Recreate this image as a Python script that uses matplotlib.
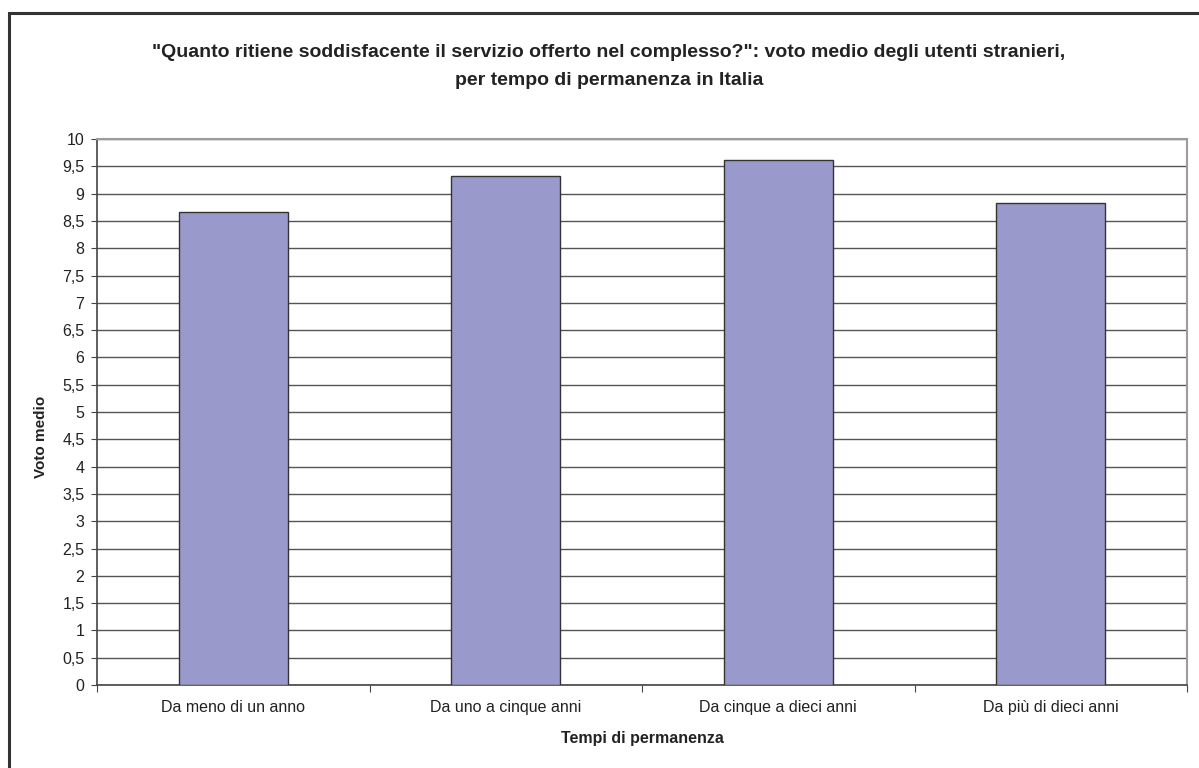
import numpy as np
import matplotlib.pyplot as plt
from matplotlib.patches import Rectangle

plt.rcParams["font.family"] = ["Liberation Sans", "DejaVu Sans"]

categories = [
    "Da meno di un anno",
    "Da uno a cinque anni",
    "Da cinque a dieci anni",
    "Da più di dieci anni",
]
voto_medio = [8.67, 9.33, 9.61, 8.82]
yticks = np.arange(0, 10.01, 0.5)
ytick_labels = [f"{t:g}".replace(".", ",") for t in yticks]

fig = plt.figure(figsize=(11.99, 7.68), dpi=100)
ax = fig.add_axes([0.0809, 0.108, 0.9091, 0.711])

# outer chart frame (top and left edges visible)
fig.patches.append(Rectangle((8.5 / 1199, -0.05), 1.2, 1 - 12.5 / 768 + 0.05,
                             transform=fig.transFigure, fill=False,
                             edgecolor="#333333", linewidth=2.2))

x = np.arange(len(categories))
ax.bar(x, voto_medio, width=0.4, color="#9999CC", edgecolor="#333333",
       linewidth=1.0, zorder=3)

ax.set_xlim(-0.5, len(categories) - 0.5)
ax.set_ylim(0, 10)
ax.set_yticks(yticks)
ax.set_yticklabels(ytick_labels)
ax.yaxis.grid(True, color="#555555", linewidth=1.0, zorder=0)
ax.set_axisbelow(True)

# category ticks sit between the bars
ax.set_xticks(np.arange(-0.5, len(categories) + 0.5, 1))
ax.set_xticklabels([])
ax.set_xticks(x, minor=True)
ax.set_xticklabels(categories, minor=True)
ax.tick_params(axis="x", which="minor", length=0, pad=11, labelsize=11.5,
               labelcolor="#222222")
ax.tick_params(axis="x", which="major", direction="out", length=5,
               color="#444444")
ax.tick_params(axis="y", direction="out", length=4, color="#444444",
               labelsize=11.5, labelcolor="#222222", pad=5)

for side in ["top", "right"]:
    ax.spines[side].set_color("#A09A9A")
    ax.spines[side].set_linewidth(1.5)
for side in ["left", "bottom"]:
    ax.spines[side].set_color("#444444")
    ax.spines[side].set_linewidth(1.2)

ax.set_xlabel("Tempi di permanenza", fontsize=11.5, fontweight="bold",
              color="#222222", va="center")
ax.xaxis.set_label_coords(0.5, -0.097)
ax.set_ylabel("Voto medio", fontsize=11, fontweight="bold",
              color="#222222", va="center")
ax.yaxis.set_label_coords(-0.051, 0.454)

fig.suptitle('"Quanto ritiene soddisfacente il servizio offerto nel complesso?": '
             "voto medio degli utenti stranieri,\nper tempo di permanenza in Italia",
             x=0.508, y=0.943, fontsize=14, fontweight="bold",
             color="#222222", linespacing=1.85)

fig.savefig("out.png", dpi=100)
